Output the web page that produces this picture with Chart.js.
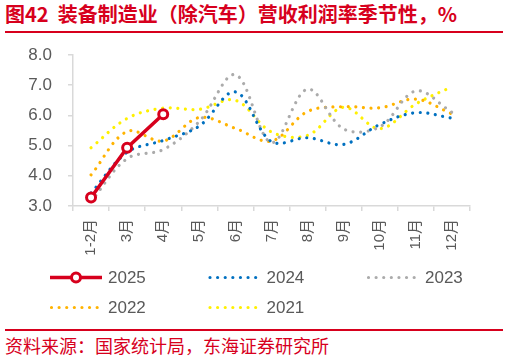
<!DOCTYPE html>
<html><head><meta charset="utf-8">
<script src="https://cdn.jsdelivr.net/npm/chart.js@4.4.0/dist/chart.umd.min.js"></script>
<style>
html,body{margin:0;padding:0;background:#fff;width:509px;height:359px;overflow:hidden;}
#title{position:absolute;left:5px;top:2px;font:bold 20px "Noto Sans CJK SC",sans-serif;color:#D7001D;white-space:pre;line-height:24px;}
#line1{position:absolute;left:5px;top:31px;width:498px;height:2px;background:#D7001D;}
#wrap{position:absolute;left:0;top:36px;width:509px;height:290px;}
#line2{position:absolute;left:5px;top:329px;width:498px;height:2px;background:#D7001D;}
#src{position:absolute;left:5px;top:333px;font:18px "Noto Sans CJK SC",sans-serif;color:#D7001D;line-height:24px;white-space:pre;}
</style></head>
<body>
<div id="title">图42  装备制造业（除汽车）营收利润率季节性，%</div>
<div id="line1"></div>
<div id="wrap"><canvas id="c" width="509" height="290"></canvas></div>
<div id="line2"></div>
<div id="src">资料来源：国家统计局，东海证券研究所</div>
<script>
const categories = ['1-2月','3月','4月','5月','6月','7月','8月','9月','10月','11月','12月'];
const seriesNames = ['2025','2024','2023','2022','2021'];
const v2025 = [3.28, 4.93, 6.04];
const v2024 = [3.43, 4.78, 5.17, 5.65, 6.78, 5.13, 5.26, 5.04, 5.70, 6.09, 5.91];
const v2023 = [3.15, 4.57, 4.87, 5.80, 7.35, 5.10, 6.87, 5.55, 5.62, 6.81, 6.10];
const v2022 = [4.03, 5.47, 5.15, 5.93, 5.57, 5.15, 6.13, 6.29, 6.25, 6.54, 6.05];
const v2021 = [4.93, 5.90, 6.24, 6.20, 6.50, 5.45, 5.34, 6.27, 5.56, 6.38, 6.95];
const yTicks = [3, 4, 5, 6, 7, 8];

const FONT = '"Liberation Sans", Arial, "Noto Sans CJK SC", sans-serif';
const RED = '#D7001D';
function dotted(label, data, color) {
  return {label, data, borderColor: color, backgroundColor: color, borderWidth: 3.2,
    borderDash: [0.01, 7.6], borderCapStyle: 'round', pointRadius: 0, tension: 0.35, fill: false};
}
const datasets = [
  {label: seriesNames[0], data: v2025, borderColor: RED, backgroundColor: '#fff', borderWidth: 3.5,
   pointRadius: 4.5, pointBorderWidth: 3, pointBackgroundColor: '#fff', pointBorderColor: RED, tension: 0},
  dotted(seriesNames[1], v2024, '#0070C0'),
  dotted(seriesNames[2], v2023, '#ABABAB'),
  dotted(seriesNames[3], v2022, '#FFB300'),
  dotted(seriesNames[4], v2021, '#FFF000')
];

const legendPlugin = {
  id: 'gridLegend',
  afterDraw(chart) {
    const ctx = chart.ctx;
    chart.data.datasets.forEach((ds, i) => {
      const col = i % 3, row = Math.floor(i / 3);
      const x0 = 50 + col * 158.5, y = 241.5 + row * 30;
      ctx.save();
      ctx.strokeStyle = ds.borderColor;
      ctx.lineWidth = ds.borderWidth;
      ctx.lineCap = ds.borderCapStyle || 'butt';
      ctx.setLineDash(ds.borderDash || []);
      ctx.beginPath();
      ctx.moveTo(x0 + (ds.borderDash ? 1.5 : 0), y);
      ctx.lineTo(x0 + 52, y);
      ctx.stroke();
      ctx.setLineDash([]);
      if (ds.pointRadius) {
        ctx.beginPath();
        ctx.arc(x0 + 26, y, ds.pointRadius, 0, Math.PI * 2);
        ctx.fillStyle = '#fff';
        ctx.fill();
        ctx.lineWidth = ds.pointBorderWidth;
        ctx.strokeStyle = ds.pointBorderColor;
        ctx.stroke();
      }
      ctx.fillStyle = '#595959';
      ctx.font = '17px ' + FONT;
      ctx.textBaseline = 'middle';
      ctx.fillText(ds.label, x0 + 58, y + 1);
      ctx.restore();
    });
  }
};

new Chart(document.getElementById('c'), {
  type: 'line',
  data: {labels: categories, datasets},
  plugins: [legendPlugin],
  options: {
    responsive: false, animation: false,
    layout: {padding: {left: 0, right: 39, top: 19, bottom: 0}},
    plugins: {legend: {display: false}, tooltip: {enabled: false}, title: {display: false}},
    scales: {
      x: {
        offset: true,
        grid: {offset: true, drawOnChartArea: false, drawTicks: true, tickLength: 5, color: '#D9D9D9', lineWidth: 1.5},
        border: {color: '#D9D9D9', width: 1.5},
        ticks: {minRotation: 90, maxRotation: 90, autoSkip: false, padding: 8, color: '#595959', font: {size: 15, family: FONT}},
        afterFit: s => { s.height = 120; s.paddingLeft = 0; s.paddingRight = 0; }
      },
      y: {
        min: yTicks[0], max: yTicks[yTicks.length - 1],
        afterBuildTicks: s => { s.ticks = yTicks.map(v => ({value: v})); },
        grid: {drawOnChartArea: false, drawTicks: true, tickLength: 5, color: '#D9D9D9', lineWidth: 1.5},
        border: {color: '#D9D9D9', width: 1.5},
        ticks: {padding: 16, color: '#595959', font: {size: 17, family: FONT}, callback: v => Number(v).toFixed(1)},
        afterFit: s => { s.width = 73; s.paddingTop = 0; s.paddingBottom = 0; }
      }
    }
  }
});
</script>
</body></html>
